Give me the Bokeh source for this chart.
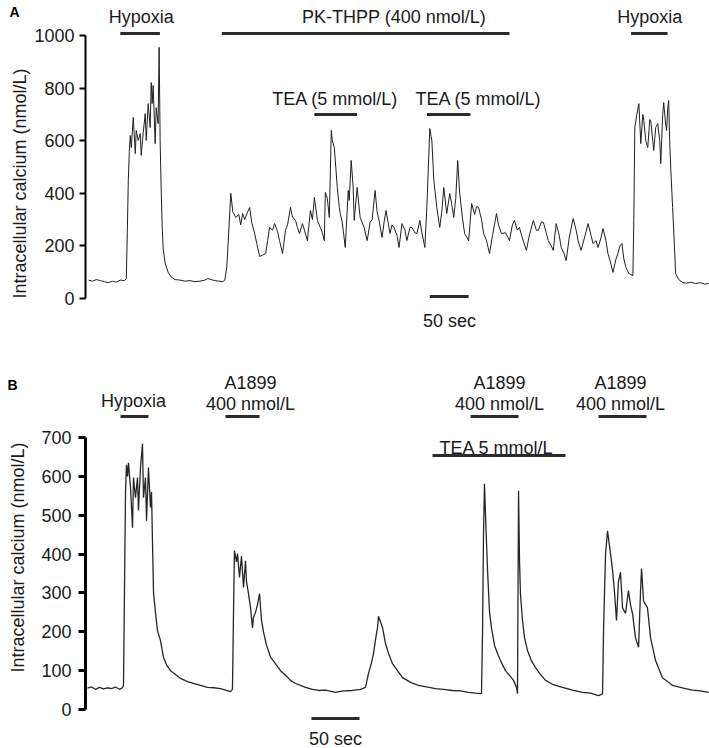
from bokeh.plotting import figure
from bokeh.layouts import column
from bokeh.models import Range1d, FixedTicker, LinearAxis
from bokeh.core.properties import value
from bokeh.embed import file_html
from bokeh.resources import INLINE

FONT = "Liberation Sans"
INK = "#1a1a1a"

# ---------------- Panel A data (time in s, calcium in nmol/L) ----------------
t_a = [0, 5.1, 10.3, 15.4, 20.5, 25.6, 30.8, 35.9, 41.0, 46.2, 48.7, 50.0, 51.3, 52.6, 53.8,
       55.1, 57.7, 60.3, 61.5, 64.1, 66.7, 67.9, 70.5, 73.1, 74.4, 76.9, 79.5, 80.8, 82.0, 83.3,
       85.9, 87.2, 89.7, 91.0, 92.3, 93.6, 94.9, 96.2, 98.7, 102.6, 106.4, 111.5, 117.9, 124.4,
       130.8, 137.2, 143.6, 150.0, 153.8, 157.7, 162.8, 167.9, 173.1, 175.6, 178.2, 180.8, 183.3,
       185.9, 189.7, 193.6, 196.1, 198.7, 201.3, 205.1, 207.7, 210.2, 214.1, 216.7, 220.5, 224.4,
       228.2, 230.8, 233.3, 237.2, 239.7, 243.6, 246.1, 250.0, 253.8, 256.4, 260.2, 262.8, 266.7,
       269.2, 271.8, 275.6, 278.2, 282.0, 285.9, 288.5, 291.0, 294.9, 298.7, 301.3, 303.8, 305.1,
       307.7, 310.2, 312.8, 314.1, 316.7, 320.5, 323.1, 324.3, 326.9, 330.8, 334.6, 335.9, 338.4,
       341.0, 342.3, 346.1, 350.0, 355.1, 359.0, 362.8, 365.4, 369.2, 371.8, 374.3, 378.2, 380.8,
       383.3, 385.9, 388.4, 391.0, 393.6, 397.4, 400.0, 403.8, 407.7, 410.2, 414.1, 416.7, 420.5,
       423.1, 426.9, 429.5, 433.3, 435.9, 439.7, 442.3, 444.9, 448.7, 452.5, 455.1, 457.7, 461.5,
       465.4, 467.9, 470.5, 473.1, 475.6, 478.2, 482.0, 484.6, 489.7, 493.6, 497.4, 500.0, 502.5,
       506.4, 509.0, 512.8, 516.6, 520.5, 525.6, 528.2, 532.0, 537.2, 542.3, 546.1, 548.7, 552.5,
       555.1, 559.0, 564.1, 567.9, 573.1, 576.9, 579.5, 583.3, 585.9, 589.7, 592.3, 596.1, 598.7,
       602.5, 606.4, 609.0, 612.8, 615.4, 619.2, 624.3, 628.2, 630.7, 634.6, 639.7, 643.6, 647.4,
       650.0, 653.8, 656.4, 660.2, 662.8, 666.6, 669.2, 673.1, 675.6, 679.5, 682.0, 684.6, 687.2,
       689.7, 692.3, 696.1, 701.3, 702.5, 703.8, 706.4, 709.0, 711.5, 714.1, 715.4, 717.9, 720.5,
       723.0, 724.3, 726.9, 728.2, 730.7, 733.3, 735.9, 737.2, 739.7, 741.0, 743.6, 744.8, 746.1,
       747.4, 748.7, 750.0, 752.5, 755.1, 756.4, 760.3, 765.4, 770.5, 775.6, 782.0, 788.4, 793.6,
       798.7]
ca_a = [70, 66, 72, 68, 64, 60, 66, 62, 70, 68, 75, 250, 450, 560, 620,
        574, 688, 551, 639, 601, 627, 544, 630, 703, 601, 741, 650, 821, 741, 810,
        589, 726, 665, 955, 600, 420, 280, 190, 135, 100, 82, 72, 70, 66,
        68, 64, 66, 70, 76, 72, 68, 66, 64, 70, 120, 260, 400,
        330, 308, 320, 280, 323, 300, 330, 346, 290, 247, 210, 160, 165,
        171, 220, 270, 260, 285, 255, 220, 171, 259, 280, 346, 310, 297,
        270, 247, 285, 260, 220, 335, 300, 384, 297, 270, 250, 220, 403,
        380, 308, 639, 600, 574, 422, 346, 323, 290, 194, 411, 373, 525,
        420, 297, 422, 308, 270, 220, 290, 300, 411, 330, 297, 232, 290,
        335, 290, 247, 280, 270, 240, 194, 285, 260, 220, 270, 270, 250,
        247, 297, 250, 194, 350, 646, 601, 449, 346, 270, 330, 422, 323,
        399, 360, 308, 380, 525, 400, 300, 247, 220, 361, 320, 350, 346,
        300, 247, 220, 171, 240, 323, 280, 247, 250, 220, 280, 297, 260,
        270, 230, 183, 240, 297, 260, 259, 290, 290, 250, 220, 200, 183,
        285, 240, 194, 170, 144, 230, 304, 260, 220, 183, 240, 285, 240,
        209, 220, 194, 230, 266, 220, 171, 130, 99, 150, 171, 200, 209,
        150, 118, 95, 87, 300, 650, 700, 741, 589, 700, 677, 600, 574,
        680, 677, 600, 563, 650, 665, 600, 513, 700, 745, 660, 639, 720,
        753, 601, 500, 346, 180, 95, 72, 61, 58, 62, 57, 60, 55,
        57]

a_ticks = [0, 200, 400, 600, 800, 1000]
a_labels = ["Hypoxia", "PK-THPP (400 nmol/L)", "TEA (5 mmol/L)", "TEA (5 mmol/L)", "Hypoxia"]
a_label_t = [68, 393.6, 318, 502.5, 723]
a_start = [41, 171.8, 291, 436, 699]
a_end = [92, 542.3, 346, 492, 746]

# ---------------- Panel B data ----------------
t_b = [0, 4.2, 8.3, 12.5, 16.7, 20.8, 25.0, 29.2, 33.3, 36.5, 37.5, 38.5, 39.6, 40.6, 41.7,
       42.7, 44.8, 46.9, 47.9, 50.0, 52.1, 53.1, 55.2, 57.3, 58.3, 60.4, 61.5, 63.5, 65.6, 66.7,
       67.7, 68.8, 70.8, 72.9, 76.0, 79.2, 82.3, 86.5, 91.7, 96.9, 104.2, 110.4, 117.7, 125.0,
       131.3, 138.5, 143.8, 149.0, 151.0, 152.1, 153.1, 155.2, 156.3, 158.3, 160.4, 162.5, 164.6,
       165.6, 167.7, 169.8, 171.9, 172.9, 175.0, 177.1, 179.2, 181.3, 183.3, 186.5, 190.6, 195.8,
       201.0, 206.3, 211.5, 216.7, 221.9, 227.1, 234.4, 240.6, 247.9, 258.3, 266.7, 276.0, 284.4,
       289.6, 292.7, 295.8, 297.9, 300.0, 302.1, 303.1, 305.2, 307.3, 310.4, 313.5, 317.7, 322.9,
       328.1, 336.5, 344.8, 353.1, 362.5, 370.8, 380.2, 388.5, 396.9, 404.2, 410.4, 411.5, 412.5,
       413.5, 414.6, 416.7, 418.8, 420.8, 424.0, 427.1, 431.3, 435.4, 439.6, 443.8, 446.9, 447.9,
       449.0, 450.0, 451.0, 453.1, 455.2, 458.3, 462.5, 466.7, 471.9, 477.1, 484.4, 494.8, 505.2,
       515.6, 524.0, 532.3, 536.5, 537.5, 539.6, 541.7, 543.8, 544.8, 546.9, 549.0, 551.0, 553.1,
       555.2, 557.3, 560.4, 563.5, 565.6, 567.7, 570.8, 574.0, 576.0, 577.1, 579.2, 581.3, 583.3,
       586.5, 591.7, 598.9, 604.2, 609.4, 615.6, 622.9, 630.2, 638.5, 646.9]
ca_b = [55, 58, 52, 57, 53, 56, 54, 58, 52, 56, 62, 300, 560, 630, 600,
        635, 571, 468, 597, 545, 597, 512, 623, 684, 545, 597, 486, 623, 520, 560,
        430, 300, 250, 203, 178, 134, 115, 100, 90, 80, 72, 67, 62, 57,
        56, 54, 50, 46, 52, 250, 409, 380, 401, 340, 395, 314, 383,
        330, 298, 262, 210, 237, 250, 270, 298, 229, 200, 165, 135, 118,
        100, 88, 75, 67, 62, 57, 52, 49, 50, 44, 48, 49, 52,
        57, 93, 120, 144, 180, 211, 240, 225, 211, 170, 145, 118, 100,
        82, 70, 62, 58, 54, 52, 49, 48, 44, 42, 41, 200, 450,
        581, 500, 358, 250, 210, 165, 144, 120, 100, 88, 75, 57, 41,
        563, 383, 298, 229, 185, 152, 125, 108, 90, 75, 65, 57, 50,
        44, 42, 36, 40, 200, 400, 460, 420, 401, 360, 300, 229, 330,
        353, 262, 247, 306, 270, 247, 185, 160, 300, 363, 280, 270, 262,
        185, 126, 82, 72, 62, 58, 54, 50, 48, 44]

b_ticks = [0, 100, 200, 300, 400, 500, 600, 700]
b_start = [34.4, 143.8, 399, 532.3, 359.4]
b_end = [63.5, 179.2, 449, 582.3, 497.9]

YLABEL = "Intracellular calcium (nmol/L)"


def style_axis(ax, ticks, bounds, lw, tick_len, standoff, label_standoff):
    ax.ticker = FixedTicker(ticks=ticks)
    ax.bounds = bounds
    ax.axis_line_width = lw
    ax.axis_line_color = "black"
    ax.major_tick_line_width = lw
    ax.major_tick_line_color = "black"
    ax.major_tick_out = tick_len
    ax.major_tick_in = 0
    ax.minor_tick_out = 0
    ax.minor_tick_in = 0
    ax.major_label_text_font = FONT
    ax.major_label_text_font_size = "18px"
    ax.major_label_text_color = INK
    ax.major_label_standoff = standoff
    ax.axis_label = YLABEL
    ax.axis_label_text_font = FONT
    ax.axis_label_text_font_size = "18px"
    ax.axis_label_text_font_style = "normal"
    ax.axis_label_text_color = INK
    ax.axis_label_standoff = label_standoff


def panel_letter(p, letter, at, standoff):
    # outer axis that carries only the panel letter as its single tick label
    ax = LinearAxis(ticker=FixedTicker(ticks=[at]), major_label_overrides={at: letter})
    ax.axis_line_color = None
    ax.major_tick_line_color = None
    ax.minor_tick_line_color = None
    ax.major_tick_out = 0
    ax.major_tick_in = 0
    ax.minor_tick_out = 0
    ax.minor_tick_in = 0
    ax.major_label_standoff = standoff
    ax.major_label_text_font = FONT
    ax.major_label_text_font_size = "14px"
    ax.major_label_text_font_style = "bold"
    ax.major_label_text_color = "black"
    p.add_layout(ax, "left")


def base_fig(height, xr, yr, left):
    p = figure(width=709, height=height, x_range=Range1d(*xr), y_range=Range1d(*yr),
               x_axis_type=None, output_backend="svg", toolbar_location=None,
               min_border_left=left, min_border_right=0, min_border_top=0, min_border_bottom=0)
    p.outline_line_color = None
    p.grid.visible = False
    p.background_fill_color = "white"
    p.border_fill_color = "white"
    return p


txt = dict(text_font=value(FONT), text_font_size=value("18px"), text_color=INK,
           text_align="center", text_baseline="alphabetic")

# ---------------- Panel A ----------------
pA = base_fig(366, (-3.85, 800.0), (-258.5, 1133.1), 82)
style_axis(pA.yaxis[0], a_ticks, (0, 1000), 2, 6, 5, 1)
panel_letter(pA, "A", 1091, -12)
pA.line(t_a, ca_a, line_width=1, line_color="#202020")
a_bar_y = [1008, 1008, 700, 700, 1008]
a_txt_y = [1072, 1072, 757, 757, 1072]
pA.segment(x0=a_start, y0=a_bar_y, x1=a_end, y1=a_bar_y, line_width=3, line_color="#2b2b2b")
pA.text(x=a_label_t, y=a_txt_y, text=a_labels, **txt)
pA.segment(x0=[439.7], y0=[7.6], x1=[489.7], y1=[7.6], line_width=3, line_color="#2b2b2b")
pA.text(x=[465], y=[-84], text=["50 sec"], **txt)

# ---------------- Panel B ----------------
pB = base_fig(382, (-2.08, 647.9), (-100.3, 882.7), 85)
style_axis(pB.yaxis[0], b_ticks, (0, 700), 3, 7, 7, 10)
panel_letter(pB, "B", 834, -12)
pB.line(t_b, ca_b, line_width=1.3, line_color="#262626")
b_bar_y = [754, 754, 754, 754, 653.6]
pB.segment(x0=b_start, y0=b_bar_y, x1=b_end, y1=b_bar_y, line_width=3, line_color="#2b2b2b")
b_text = ["Hypoxia", "A1899", "400 nmol/L", "A1899", "400 nmol/L", "A1899", "400 nmol/L",
          "TEA 5 mmol/L"]
b_text_t = [47.9, 169.8, 169.8, 429.2, 429.2, 555.2, 555.2, 426]
b_text_y = [795, 841.5, 787, 841.5, 787, 841.5, 787, 674]
pB.text(x=b_text_t, y=b_text_y, text=b_text, **txt)
pB.segment(x0=[233.3], y0=[-23], x1=[283.3], y1=[-23], line_width=3, line_color="#2b2b2b")
pB.text(x=[258.3], y=[-75], text=["50 sec"], **txt)

layout = column(pA, pB, spacing=0)
open("out.html", "w").write(file_html(layout, INLINE))
